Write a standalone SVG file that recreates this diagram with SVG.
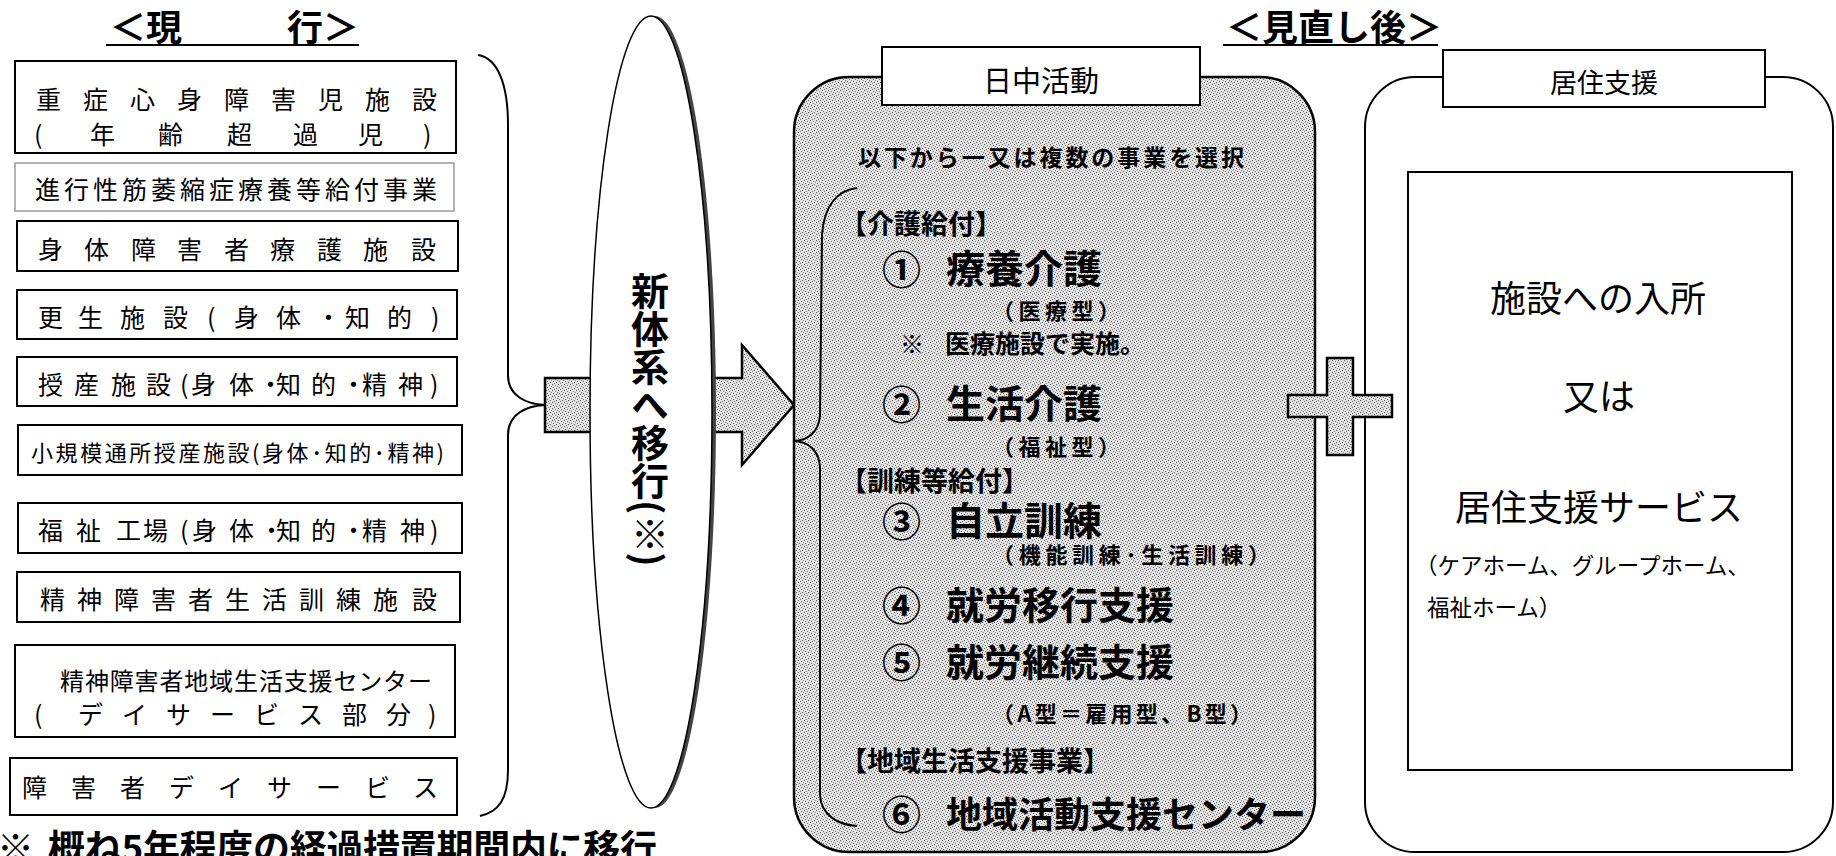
<svg xmlns="http://www.w3.org/2000/svg" width="1836" height="856" viewBox="0 0 1836 856">
<defs>
<style>
.bx{fill:#fff;stroke:#000;stroke-width:2}
.lt{fill:#fff;stroke:#9a9a9a;stroke-width:1.5}
.t{font-family:"Noto Sans CJK JP","Noto Sans CJK SC",sans-serif;fill:#000}
.b{font-weight:700}
.ln{fill:none;stroke:#000;stroke-width:2}
.gr{fill:url(#dots);stroke:#000;stroke-width:2.5}
</style>
<pattern id="dots" width="6" height="6" patternUnits="userSpaceOnUse">
<rect width="6" height="6" fill="#e2e2e2"/>
<rect x="0" y="0" width="1" height="1" fill="#555"/>
<rect x="3" y="1" width="1" height="1" fill="#777"/>
<rect x="1" y="3" width="1" height="1" fill="#666"/>
<rect x="4" y="4" width="1" height="1" fill="#555"/>
<rect x="5" y="2" width="1" height="1" fill="#888"/>
<rect x="2" y="5" width="1" height="1" fill="#777"/>
</pattern>
</defs>
<rect width="1836" height="856" fill="#fff"/>

<g id="title-current">
<text class="t b" x="110" y="41" font-size="36">＜現</text>
<text class="t b" x="287" y="41" font-size="36">行＞</text>
<line x1="106" y1="45" x2="359" y2="45" stroke="#000" stroke-width="2"/>
</g>
<g id="title-new">
<text class="t b" x="1226" y="41" font-size="36">＜見直し後＞</text>
<line x1="1223" y1="45" x2="1438" y2="45" stroke="#000" stroke-width="2"/>
</g>

<g id="box1"><rect class="bx" x="15" y="61" width="441" height="92"/>
<text class="t" font-size="25" x="36 83 130 177 224 271 318 365 412" y="109">重症心身障害児施設</text>
<text class="t" font-size="25" x="34 90 158 227 293 358 423" y="144">(年齢超過児)</text></g>
<g id="box2"><rect class="lt" x="15" y="163" width="439" height="48"/>
<text class="t" font-size="25" x="35 64 93 122 151 180 209 238 267 296 325 354 383 412" y="199">進行性筋萎縮症療養等給付事業</text></g>
<g id="box3"><rect class="bx" x="17" y="221" width="441" height="50"/>
<text class="t" font-size="25" x="38 84 131 177 224 270 317 363 411" y="259">身体障害者療護施設</text></g>
<g id="box4"><rect class="bx" x="17" y="290" width="440" height="49"/>
<text class="t" font-size="25" x="38 78 120 163 207 234 276 316 345 387 431" y="327">更生施設(身体・知的)</text></g>
<g id="box5"><rect class="bx" x="17" y="357" width="440" height="49"/>
<text class="t" font-size="25" x="38 74 111 146 180 191 229 258 276 311 341 362 398 430" y="394">授産施設(身体・知的・精神)</text></g>
<g id="box6"><rect class="bx" x="18" y="425" width="444" height="50"/>
<text class="t" x="31" y="461" font-size="22" textLength="413" lengthAdjust="spacing">小規模通所授産施設(身体･知的･精神)</text></g>
<g id="box7"><rect class="bx" x="18" y="503" width="444" height="50"/>
<text class="t" font-size="25" x="38 76 116 143 180 192 229 259 276 311 341 362 400 430" y="540">福祉工場(身体・知的・精神)</text></g>
<g id="box8"><rect class="bx" x="17" y="572" width="443" height="50"/>
<text class="t" font-size="25" x="40 77 114 151 188 225 262 299 336 373 412" y="609">精神障害者生活訓練施設</text></g>
<g id="box9"><rect class="bx" x="15" y="645" width="440" height="92"/>
<text class="t" font-size="24" x="60 84.9 109.7 134.6 159.4 184.3 209.1 234 258.9 283.7 308.6 333.4 358.3 383.1 408" y="690">精神障害者地域生活支援センター</text>
<text class="t" font-size="25" x="34 78 122 166 210 254 298 342 386 428" y="724">(デイサービス部分)</text></g>
<g id="box10"><rect class="bx" x="10" y="758" width="447" height="57"/>
<text class="t" font-size="25" x="22 71 120 169 218 267 316 365 413" y="797">障害者デイサービス</text></g>

<g id="note">
<text class="t b" x="-3" y="862" font-size="37">※</text>
<text class="t b" x="48" y="862" font-size="37" textLength="609" lengthAdjust="spacing">概ね5年程度の経過措置期間内に移行</text>
</g>

<g id="connectors">
<path class="ln" d="M478,55 C498,58 508,85 508,125 L508,375 C508,396 526,404 545,405 C526,406 508,414 508,435 L508,770 C508,800 498,812 480,816"/>
<rect class="gr" x="545" y="378" width="56" height="54"/>
<polygon class="gr" points="700,378 742,378 742,345 794,405 742,465 742,432 700,432"/>
</g>

<g id="transition">
<ellipse cx="655" cy="412" rx="61" ry="396" fill="#444"/>
<ellipse cx="651" cy="412" rx="61" ry="396" fill="#fff" stroke="#000" stroke-width="1.5"/>
<text class="t b" x="650" y="272" font-size="38" style="writing-mode:vertical-rl">新体系へ移行(※)</text>
</g>

<g id="day-activity">
<rect class="gr" x="794" y="77" width="521" height="775" rx="55" ry="55" stroke-width="2.5"/>
<rect class="bx" x="882" y="47" width="318" height="58"/>
<text class="t" x="1041" y="92" font-size="29" text-anchor="middle">日中活動</text>
<path class="ln" stroke-width="1.5" d="M857,188 C838,190 824,205 822,235 L820,415 C819,432 808,440 795,441 C808,442 819,450 820,467 L820,795 C821,815 838,825 857,826"/>
<text class="t b" x="858" y="166" font-size="23" textLength="386" lengthAdjust="spacing">以下から一又は複数の事業を選択</text>
<text class="t b" x="840" y="234" font-size="27">【介護給付】</text>
<text class="t b" x="882" y="284" font-size="39">①</text>
<text class="t b" x="946" y="283" font-size="39">療養介護</text>
<text class="t b" x="992" y="319" font-size="22" textLength="128" lengthAdjust="spacing">（医療型）</text>
<text class="t b" x="900" y="353" font-size="24">※</text>
<text class="t b" x="945" y="353" font-size="25">医療施設で実施。</text>
<text class="t b" x="882" y="419" font-size="39">②</text>
<text class="t b" x="946" y="418" font-size="39">生活介護</text>
<text class="t b" x="992" y="455" font-size="22" textLength="128" lengthAdjust="spacing">（福祉型）</text>
<text class="t b" x="840" y="491" font-size="27">【訓練等給付】</text>
<text class="t b" x="882" y="536" font-size="39">③</text>
<text class="t b" x="946" y="535" font-size="39">自立訓練</text>
<text class="t b" x="992" y="563" font-size="22" textLength="278" lengthAdjust="spacing">（機能訓練･生活訓練）</text>
<text class="t b" x="882" y="620" font-size="39">④</text>
<text class="t b" x="946" y="619" font-size="38">就労移行支援</text>
<text class="t b" x="882" y="677" font-size="39">⑤</text>
<text class="t b" x="946" y="676" font-size="38">就労継続支援</text>
<text class="t b" x="992" y="722" font-size="22" textLength="260" lengthAdjust="spacing">（A型＝雇用型、B型）</text>
<text class="t b" x="840" y="771" font-size="27">【地域生活支援事業】</text>
<text class="t b" x="882" y="829" font-size="39">⑥</text>
<text class="t b" x="946" y="828" font-size="36">地域活動支援センター</text>
</g>

<g id="residential">
<rect class="bx" x="1365" y="77" width="468" height="775" rx="50" ry="50" stroke-width="2.5"/>
<rect class="bx" x="1443" y="50" width="322" height="57"/>
<text class="t" x="1604" y="93" font-size="27" text-anchor="middle">居住支援</text>
<rect class="bx" x="1408" y="172" width="384" height="598"/>
<text class="t" x="1598" y="312" font-size="36" text-anchor="middle">施設への入所</text>
<text class="t" x="1599" y="410" font-size="36" text-anchor="middle">又は</text>
<text class="t" x="1599" y="521" font-size="36" text-anchor="middle">居住支援サービス</text>
<text class="t" x="1415" y="574" font-size="22.5">（ケアホーム、グループホーム、</text>
<text class="t" x="1427" y="616" font-size="22.5">福祉ホーム）</text>
</g>

<g id="plus">
<path class="gr" stroke-width="3" d="M1327,358 H1353 V395 H1392 V417 H1353 V455 H1327 V417 H1288 V395 H1327 Z"/>
</g>
</svg>
